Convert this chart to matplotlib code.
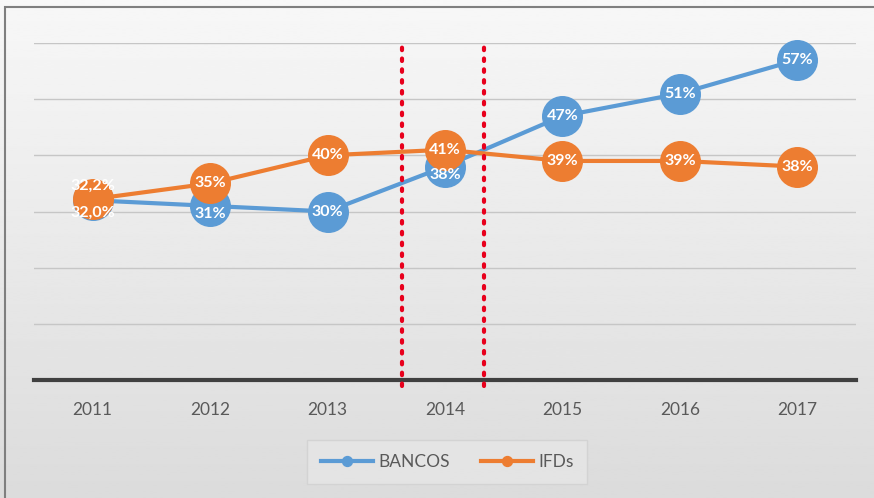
import numpy as np
import matplotlib.pyplot as plt
from matplotlib.patches import Rectangle

# data
years = ['2011', '2012', '2013', '2014', '2015', '2016', '2017']
bancos = [32.0, 31, 30, 38, 47, 51, 57]
ifds = [32.2, 35, 40, 41, 39, 39, 38]
bancos_labels = ['32,0%', '31%', '30%', '38%', '47%', '51%', '57%']
ifds_labels = ['32,2%', '35%', '40%', '41%', '39%', '39%', '38%']
# period markers between 2013 and 2014, and 2014 and 2015
period_x = [2.63, 3.33]

blue = '#5B9BD5'
orange = '#ED7D31'

plt.rcParams['font.family'] = ['Lato', 'DejaVu Sans']

fig = plt.figure(figsize=(8.74, 4.98), dpi=100)

# background gradient
bg = fig.add_axes([0, 0, 1, 1], zorder=-10)
grad = np.linspace(0.97, 0.86, 256).reshape(-1, 1)
bg.imshow(grad, aspect='auto', cmap='gray', vmin=0, vmax=1, extent=[0, 1, 0, 1])
bg.set_xlim(0, 1)
bg.set_ylim(0, 1)
bg.axis('off')
bg.add_patch(Rectangle((0.006, -0.01), 1.0, 0.995, fill=False,
                       edgecolor='#7f7f7f', linewidth=1.5))

ax = fig.add_axes([34 / 874, 118 / 498, 822 / 874, 337 / 498])
ax.patch.set_alpha(0)

x = np.arange(len(years))

ax.plot(x, bancos, color=blue, linewidth=3, marker='o', markersize=28.5,
        label='BANCOS', zorder=3, clip_on=False)
ax.plot(x, ifds, color=orange, linewidth=3, marker='o', markersize=28.5,
        label='IFDs', zorder=4, clip_on=False)

# data labels
label_style = dict(ha='center', va='center', color='white', fontsize=11.5,
                   fontweight='bold', zorder=6)
for i, (v, t) in enumerate(zip(bancos, bancos_labels)):
    dy = 0
    if i == 0:
        dy = -2.2
    elif i in (1, 3):
        dy = -1.5
    ax.text(x[i], v + dy, t, **label_style)
for i, (v, t) in enumerate(zip(ifds, ifds_labels)):
    dy = 2.3 if i == 0 else 0
    ax.text(x[i], v + dy, t, **label_style)

# red dotted separators
for px in period_x:
    ax.plot([px, px], [-1, 59.5], color='#E8001C', linewidth=3,
            linestyle=(0, (0.6, 2.0)), dash_capstyle='round', zorder=5, clip_on=False)

ax.set_xlim(-0.5, len(years) - 0.5)
ax.set_ylim(0, 60)
ax.set_yticks(np.arange(0, 61, 10))
ax.set_yticklabels([])
ax.tick_params(axis='y', length=0)
ax.grid(axis='y', color='#c6c6c6', linewidth=1)
ax.set_axisbelow(True)

ax.set_xticks(x)
ax.set_xticklabels(years, color='#595959', fontsize=12.5)
ax.tick_params(axis='x', length=0, pad=16)

for side in ['top', 'right', 'left']:
    ax.spines[side].set_visible(False)
ax.spines['bottom'].set_color('#404040')
ax.spines['bottom'].set_linewidth(3)

leg = fig.legend(handles=ax.lines[:2], labels=['BANCOS', 'IFDs'], loc='center',
                 bbox_to_anchor=(447 / 874, 1 - 462 / 498), ncol=2, frameon=True,
                 fontsize=12.5, handlelength=3.0, columnspacing=1.8, markerscale=0.25,
                 borderpad=0.5, handletextpad=0.3)
leg.get_frame().set_facecolor('#e6e6e6')
leg.get_frame().set_edgecolor('#d0d0d0')
leg.get_frame().set_boxstyle('square')
for t in leg.get_texts():
    t.set_color('#595959')

fig.savefig('out.png', dpi=100)
